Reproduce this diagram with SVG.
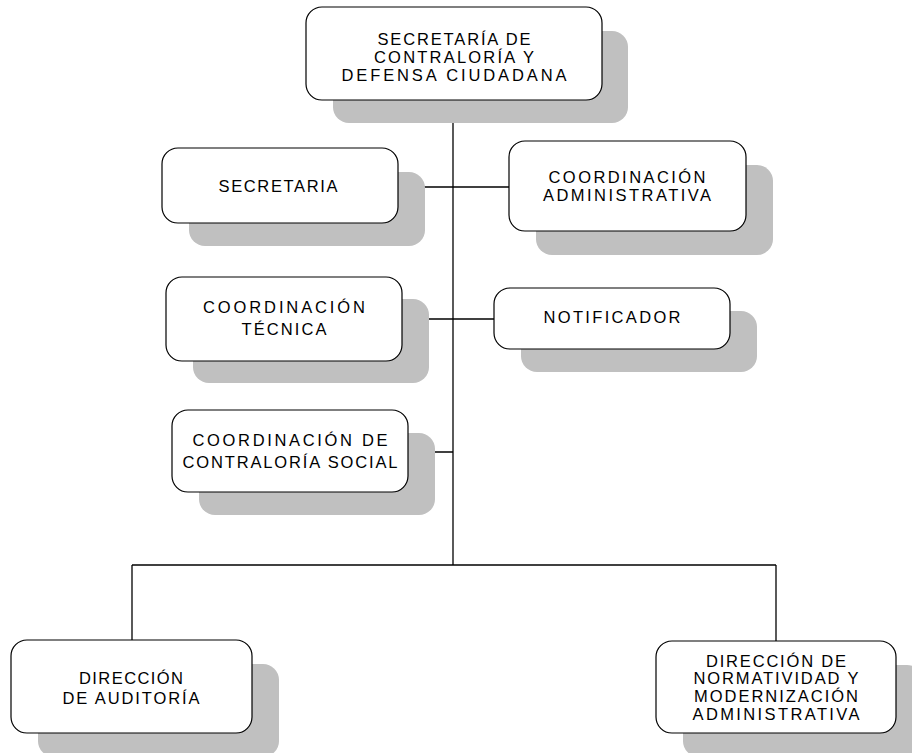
<svg xmlns="http://www.w3.org/2000/svg" width="912" height="753" viewBox="0 0 912 753">
  <style>
    .shadow { fill: #c0c0c0; stroke: none; }
    .box { fill: #ffffff; stroke: #000000; stroke-width: 1.2; }
    .lbl { font-family: "Liberation Sans", Arial, sans-serif; font-size: 16.5px; fill: #000000; text-anchor: middle; }
    .wire { stroke: #000000; stroke-width: 1.3; fill: none; }
  </style>
  <rect width="912" height="753" fill="#ffffff"/>

  <!-- connectors -->
  <g id="connectors">
    <line class="wire" x1="453" y1="100" x2="453" y2="565"/>
    <line class="wire" x1="398" y1="187" x2="509" y2="187"/>
    <line class="wire" x1="402" y1="319" x2="494" y2="319"/>
    <line class="wire" x1="408" y1="452" x2="453" y2="452"/>
    <line class="wire" x1="132" y1="565" x2="776" y2="565"/>
    <line class="wire" x1="132" y1="565" x2="132" y2="640"/>
    <line class="wire" x1="776" y1="565" x2="776" y2="641"/>
  </g>

  <g id="secretaria-contraloria">
    <rect class="shadow" x="333" y="31" width="295" height="92" rx="16"/>
    <rect class="box" x="306" y="7" width="296" height="93" rx="16"/>
    <text class="lbl" x="454" y="45" textLength="153" lengthAdjust="spacing">SECRETARÍA DE</text>
    <text class="lbl" x="454" y="63" textLength="160" lengthAdjust="spacing">CONTRALORÍA Y</text>
    <text class="lbl" x="454" y="81" textLength="225" lengthAdjust="spacing">DEFENSA CIUDADANA</text>
  </g>

  <g id="secretaria">
    <rect class="shadow" x="189" y="172" width="236" height="74" rx="16"/>
    <rect class="box" x="162" y="148" width="236" height="75" rx="16"/>
    <text class="lbl" x="278" y="192" textLength="119" lengthAdjust="spacing">SECRETARIA</text>
  </g>

  <g id="coordinacion-administrativa">
    <rect class="shadow" x="536" y="165" width="237" height="90" rx="16"/>
    <rect class="box" x="509" y="141" width="237" height="90" rx="16"/>
    <text class="lbl" x="627" y="183" textLength="157" lengthAdjust="spacing">COORDINACIÓN</text>
    <text class="lbl" x="627" y="201" textLength="168" lengthAdjust="spacing">ADMINISTRATIVA</text>
  </g>

  <g id="coordinacion-tecnica">
    <rect class="shadow" x="193" y="299" width="236" height="84" rx="16"/>
    <rect class="box" x="166" y="277" width="236" height="84" rx="16"/>
    <text class="lbl" x="284" y="313" textLength="162" lengthAdjust="spacing">COORDINACIÓN</text>
    <text class="lbl" x="284" y="335" textLength="85" lengthAdjust="spacing">TÉCNICA</text>
  </g>

  <g id="notificador">
    <rect class="shadow" x="521" y="311" width="236" height="61" rx="16"/>
    <rect class="box" x="494" y="288" width="236" height="61" rx="16"/>
    <text class="lbl" x="612" y="323" textLength="137" lengthAdjust="spacing">NOTIFICADOR</text>
  </g>

  <g id="coordinacion-contraloria-social">
    <rect class="shadow" x="199" y="433" width="236" height="82" rx="16"/>
    <rect class="box" x="172" y="410" width="236" height="82" rx="16"/>
    <text class="lbl" x="290" y="446" textLength="195" lengthAdjust="spacing">COORDINACIÓN DE</text>
    <text class="lbl" x="290" y="468" textLength="215" lengthAdjust="spacing">CONTRALORÍA SOCIAL</text>
  </g>

  <g id="direccion-auditoria">
    <rect class="shadow" x="38" y="664" width="241" height="93" rx="16"/>
    <rect class="box" x="11" y="640" width="241" height="93" rx="16"/>
    <text class="lbl" x="131" y="684" textLength="104" lengthAdjust="spacing">DIRECCIÓN</text>
    <text class="lbl" x="131" y="704" textLength="137" lengthAdjust="spacing">DE AUDITORÍA</text>
  </g>

  <g id="direccion-normatividad">
    <rect class="shadow" x="683" y="665" width="240" height="92" rx="16"/>
    <rect class="box" x="656" y="641" width="240" height="92" rx="16"/>
    <text class="lbl" x="776" y="667" textLength="140" lengthAdjust="spacing">DIRECCIÓN DE</text>
    <text class="lbl" x="776" y="684" textLength="165" lengthAdjust="spacing">NORMATIVIDAD Y</text>
    <text class="lbl" x="776" y="702" textLength="164" lengthAdjust="spacing">MODERNIZACIÓN</text>
    <text class="lbl" x="776" y="720" textLength="167" lengthAdjust="spacing">ADMINISTRATIVA</text>
  </g>
</svg>
